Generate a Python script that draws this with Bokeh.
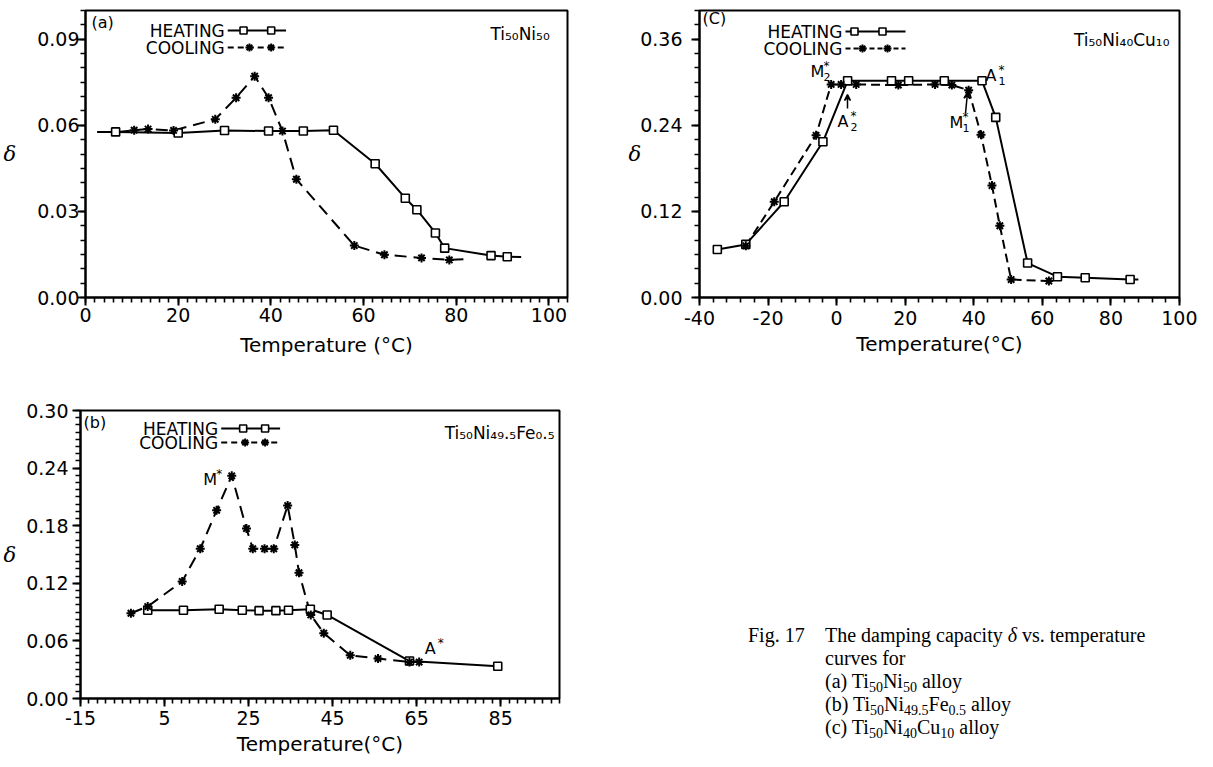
import numpy as np
from bokeh.plotting import figure
from bokeh.layouts import column, row
from bokeh.models import (Range1d, FixedTicker, PrintfTickFormatter, Arrow, VeeHead, Div)
from bokeh.core.properties import value
from bokeh.embed import file_html
from bokeh.resources import INLINE

# ---------------- data ----------------
# (a) Ti50Ni50
a_heat_T = [2.5, 6.5, 20.0, 30.0, 39.5, 47.0, 53.5, 62.5, 69.0, 71.5, 75.5, 77.5, 87.5, 91.0, 94.0]
a_heat_d = [0.0577, 0.0577, 0.0573, 0.0582, 0.0580, 0.0580, 0.0583, 0.0466, 0.0346, 0.0306,
            0.0225, 0.0172, 0.0146, 0.0142, 0.0141]
a_cool_T = [7.0, 10.5, 13.5, 19.0, 28.0, 32.5, 36.5, 39.5, 42.5, 45.5, 58.0, 64.5, 72.5, 78.5, 82.5]
a_cool_d = [0.0577, 0.0583, 0.0587, 0.0582, 0.0621, 0.0696, 0.0771, 0.0696, 0.0580, 0.0412,
            0.0181, 0.0149, 0.0138, 0.0131, 0.0134]

# (b) Ti50Ni49.5Fe0.5
b_heat_T = [1.0, 9.5, 18.0, 23.5, 27.5, 31.5, 34.5, 39.7, 43.7, 63.3, 84.3]
b_heat_d = [0.092, 0.092, 0.093, 0.092, 0.0915, 0.0915, 0.092, 0.093, 0.087, 0.039, 0.0336]
b_cool_T = [-3.0, 1.0, 9.2, 13.5, 17.4, 21.0, 24.5, 26.0, 28.8, 31.0, 34.3, 36.0, 37.0, 39.8,
            42.9, 49.2, 55.8, 63.3, 65.6]
b_cool_d = [0.0888, 0.0958, 0.122, 0.156, 0.196, 0.232, 0.177, 0.156, 0.156, 0.156, 0.201,
            0.160, 0.131, 0.087, 0.068, 0.045, 0.0416, 0.038, 0.038]

# (c) Ti50Ni40Cu10
c_heat_T = [-34.8, -26.5, -15.3, -4.0, 3.2, 16.0, 21.0, 31.4, 42.4, 46.4, 55.7, 64.4, 72.5, 85.6, 88.0]
c_heat_d = [0.067, 0.074, 0.1335, 0.217, 0.302, 0.302, 0.302, 0.302, 0.302, 0.251, 0.048,
            0.029, 0.0275, 0.025, 0.025]
c_cool_T = [-26.5, -18.2, -6.0, -1.6, 1.3, 5.7, 18.0, 28.7, 33.6, 38.5, 42.1, 45.3, 47.6, 50.9, 61.9]
c_cool_d = [0.072, 0.1335, 0.226, 0.297, 0.297, 0.297, 0.296, 0.297, 0.296, 0.289, 0.227,
            0.156, 0.100, 0.025, 0.023]

# axis ticks (labelled values)
a_xmajor = [0, 20, 40, 60, 80, 100]
a_ymajor = [0.0, 0.03, 0.06, 0.09]
b_xmajor = [-15, 5, 25, 45, 65, 85]
b_ymajor = [0.0, 0.06, 0.12, 0.18, 0.24, 0.30]
c_xmajor = [-40, -20, 0, 20, 40, 60, 80, 100]
c_ymajor = [0.0, 0.12, 0.24, 0.36]

legend_labels = ["HEATING", "COOLING"]
panel_tags = ["(a)", "(b)", "(C)"]
alloys = ["Ti₅₀Ni₅₀", "Ti₅₀Ni₄₉.₅Fe₀.₅", "Ti₅₀Ni₄₀Cu₁₀"]
x_title_a = "Temperature (°C)"
x_title_bc = "Temperature(°C)"
y_title = "δ"
caption_fig = "Fig. 17"
caption_lines = [
    "The damping capacity <i>&delta;</i> vs. temperature",
    "curves for",
    "(a) Ti<sub>50</sub>Ni<sub>50</sub> alloy",
    "(b) Ti<sub>50</sub>Ni<sub>49.5</sub>Fe<sub>0.5</sub> alloy",
    "(c) Ti<sub>50</sub>Ni<sub>40</sub>Cu<sub>10</sub> alloy",
]

FONT = "DejaVu Sans"


def mapper(L, R, T, B, xr, yr):
    def f(px, py):
        return (xr[0] + (px - L) / (R - L) * (xr[1] - xr[0]),
                yr[0] + (B - py) / (B - T) * (yr[1] - yr[0]))
    return f


def txt(p, x, y, s, size, align="left", font=FONT, style="normal", baseline="middle"):
    p.text(x=[x], y=[y], text=[s], text_font=value(font), text_font_size=size,
           text_align=align, text_baseline=baseline, text_color="black",
           text_font_style=style)


def steps(lo, hi, step):
    n = int(round((hi - lo) / step))
    return [round(lo + i * step, 6) for i in range(n + 1)]


def make_panel(width, height, bl, br, bt, bb, xr, yr, xmaj, xstep, ymaj, ystep, xtitle,
               x_stand, x_lab_stand, y_stand, y_lab_stand):
    p = figure(width=width, height=height, x_range=Range1d(*xr), y_range=Range1d(*yr),
               output_backend="svg", toolbar_location=None,
               min_border_left=bl, min_border_right=br, min_border_top=bt, min_border_bottom=bb)
    p.grid.visible = False
    p.border_fill_color = None
    p.background_fill_color = "white"
    p.outline_line_color = "black"
    p.outline_line_width = 2
    p.outline_line_alpha = 1.0
    p.xaxis.ticker = FixedTicker(ticks=xmaj, minor_ticks=steps(xr[0], xr[1], xstep))
    p.yaxis.ticker = FixedTicker(ticks=ymaj, minor_ticks=steps(yr[0], yr[1], ystep))
    p.xaxis.formatter = PrintfTickFormatter(format="%d")
    p.yaxis.formatter = PrintfTickFormatter(format="%.2f")
    for ax in (p.xaxis[0], p.yaxis[0]):
        ax.axis_line_width = 2
        ax.axis_line_color = "black"
        ax.major_tick_line_width = 2
        ax.major_tick_line_color = "black"
        ax.minor_tick_line_width = 1.6
        ax.minor_tick_line_color = "black"
        ax.major_tick_in = 0
        ax.major_tick_out = 8
        ax.minor_tick_in = 0
        ax.minor_tick_out = 5
        ax.major_label_text_font = FONT
        ax.major_label_text_font_size = "19px"
        ax.major_label_text_color = "black"
        ax.axis_label_text_font = FONT
        ax.axis_label_text_color = "black"
    p.xaxis.major_label_standoff = x_stand
    p.yaxis.major_label_standoff = y_stand
    p.xaxis.axis_label = xtitle
    p.xaxis.axis_label_text_font_style = "normal"
    p.xaxis.axis_label_text_font_size = "20px"
    p.xaxis.axis_label_standoff = x_lab_stand
    p.yaxis.axis_label = y_title
    p.yaxis.axis_label_text_font = "DejaVu Serif"
    p.yaxis.axis_label_text_font_style = "italic"
    p.yaxis.axis_label_text_font_size = "21px"
    p.yaxis.axis_label_orientation = "horizontal"
    p.yaxis.axis_label_standoff = y_lab_stand
    return p


def curves(p, hT, hd, cT, cd, h_marked, c_marked, dash):
    p.line(hT, hd, line_color="black", line_width=2)
    p.line(cT, cd, line_color="black", line_width=2, line_dash=dash)
    p.scatter(hT[h_marked], hd[h_marked], marker="square", size=8, fill_color="white",
              line_color="black", line_width=1.6)
    p.scatter(cT[c_marked], cd[c_marked], marker="asterisk", size=9,
              line_color="black", line_width=2)


def legend(p, m, text_right, y_heat, y_cool, x0, x1, heat_marks, cool_marks, dash):
    for lab, yy, marks, kind in ((legend_labels[0], y_heat, heat_marks, "h"),
                                 (legend_labels[1], y_cool, cool_marks, "c")):
        tx, ty = m(text_right, yy)
        txt(p, tx, ty, lab, "17px", align="right")
        lx0, _ = m(x0, yy)
        lx1, _ = m(x1, yy)
        if kind == "h":
            p.line([lx0, lx1], [ty, ty], line_color="black", line_width=2)
            p.scatter([m(v, yy)[0] for v in marks], [ty] * len(marks), marker="square",
                      size=7, fill_color="white", line_color="black", line_width=1.6)
        else:
            p.line([lx0, lx1], [ty, ty], line_color="black", line_width=2, line_dash=dash)
            p.scatter([m(v, yy)[0] for v in marks], [ty] * len(marks), marker="asterisk",
                      size=8, line_color="black", line_width=2)


def annot(p, m, px, py, letter, sub, sup):
    x, y = m(px, py)
    txt(p, x, y, letter, "16px")
    if sub:
        xs, ys = m(px + 13, py + 5)
        txt(p, xs, ys, sub, "11px")
    xs, ys = m(px + 13, py - 6)
    txt(p, xs, ys, sup, "12px")


TOP_H = 380
BOT_H = 381
LEFT_B = 79      # shared by (a) and (b): frame left edge at page x 87

# ---------------- panel (a) ----------------
XA, YA = (0, 104), (0, 0.10)
pa = make_panel(592, TOP_H, LEFT_B, 25, 10, TOP_H - 297, XA, YA, a_xmajor, 2, a_ymajor, 0.005,
                x_title_a, 2, 8, -2, 18)
ma = mapper(87, 575, 10, 297, XA, YA)
curves(pa, np.array(a_heat_T), np.array(a_heat_d), np.array(a_cool_T), np.array(a_cool_d),
       slice(1, -1), slice(1, -1), "12 7")
legend(pa, ma, 228, 30, 47, 231, 290, [247, 275], [253, 275], "6 4")
x, y = ma(93, 22)
txt(pa, x, y, panel_tags[0], "16px")
x, y = ma(557, 33)
txt(pa, x, y, alloys[0], "17px", align="right")

# ---------------- panel (c) ----------------
XC, YC = (-40, 100), (0, 0.40)
pc = make_panel(605, TOP_H, 107, 18, 10, TOP_H - 297, XC, YC, c_xmajor, 4, c_ymajor, 0.02,
                x_title_bc, 5, 4, 9, -4)
mc = mapper(707, 1187, 10, 297, XC, YC)
curves(pc, np.array(c_heat_T), np.array(c_heat_d), np.array(c_cool_T), np.array(c_cool_d),
       slice(0, -1), slice(0, None), "9 5")
legend(pc, mc, 850, 31, 48, 853, 913, [862, 890], [870, 895], "5 3")
x, y = mc(710, 18)
txt(pc, x, y, panel_tags[2], "16px")
x, y = mc(1177, 39)
txt(pc, x, y, alloys[2], "17px", align="right")
annot(pc, mc, 818, 71, "M", "2", "*")
annot(pc, mc, 845, 121, "A", "2", "*")
annot(pc, mc, 993, 75, "A", "1", "*")
annot(pc, mc, 957, 122, "M", "1", "*")
for (sx_, sy_, ex_, ey_) in ((855, 108, 855, 94), (973, 113, 975, 92)):
    xs, ys = mc(sx_, sy_)
    xe, ye = mc(ex_, ey_)
    pc.add_layout(Arrow(x_start=xs, y_start=ys, x_end=xe, y_end=ye, line_width=1.5,
                        end=VeeHead(size=6, line_width=1.5, fill_color="black")))

# ---------------- panel (b) ----------------
XB, YB = (-15, 99), (0, 0.30)
pb = make_panel(584, BOT_H, LEFT_B, 25, 30, BOT_H - 318, XB, YB, b_xmajor, 2, b_ymajor, 0.0075,
                x_title_bc, 4, 4, 4, 7)
mb = mapper(87, 567, 410, 698, XB, YB)
curves(pb, np.array(b_heat_T), np.array(b_heat_d), np.array(b_cool_T), np.array(b_cool_d),
       slice(0, None), slice(0, None), "12 7")
legend(pb, mb, 225, 428, 442, 228, 287, [250, 272], [252, 272], "6 4")
x, y = mb(90, 422)
txt(pb, x, y, panel_tags[1], "16px")
x, y = mb(562, 432)
txt(pb, x, y, alloys[1], "17px", align="right")
annot(pb, mb, 210, 479, "M", "", "*")
annot(pb, mb, 432, 648, "A", "", "*")

# ---------------- caption (HTML text) ----------------
DIV_X, DIV_Y = 592, 380
sub_css = "font-size:14px; line-height:0; vertical-align:-4px;"


def line_div(left, top, html):
    html = html.replace("<sub>", '<span style="%s">' % sub_css).replace("</sub>", "</span>")
    return ('<div style="position:absolute; left:%dpx; top:%dpx; white-space:nowrap; '
            'line-height:20px;">%s</div>' % (left, top, html))


parts = [line_div(751 - DIV_X, 634 - 14 - DIV_Y, caption_fig)]
for i, ln in enumerate(caption_lines):
    parts.append(line_div(828 - DIV_X, 634 + 23 * i - 14 - DIV_Y, ln))
cap_html = ('<div style="position:relative; width:610px; height:%dpx; '
            'font-family:\'Liberation Serif\', serif; font-size:20px; color:black;">%s</div>'
            % (BOT_H, "".join(parts)))
cap = Div(text=cap_html, width=613, height=BOT_H)

layout = column(row(pa, pc), row(pb, cap))
open("out.html", "w").write(file_html(layout, INLINE))
